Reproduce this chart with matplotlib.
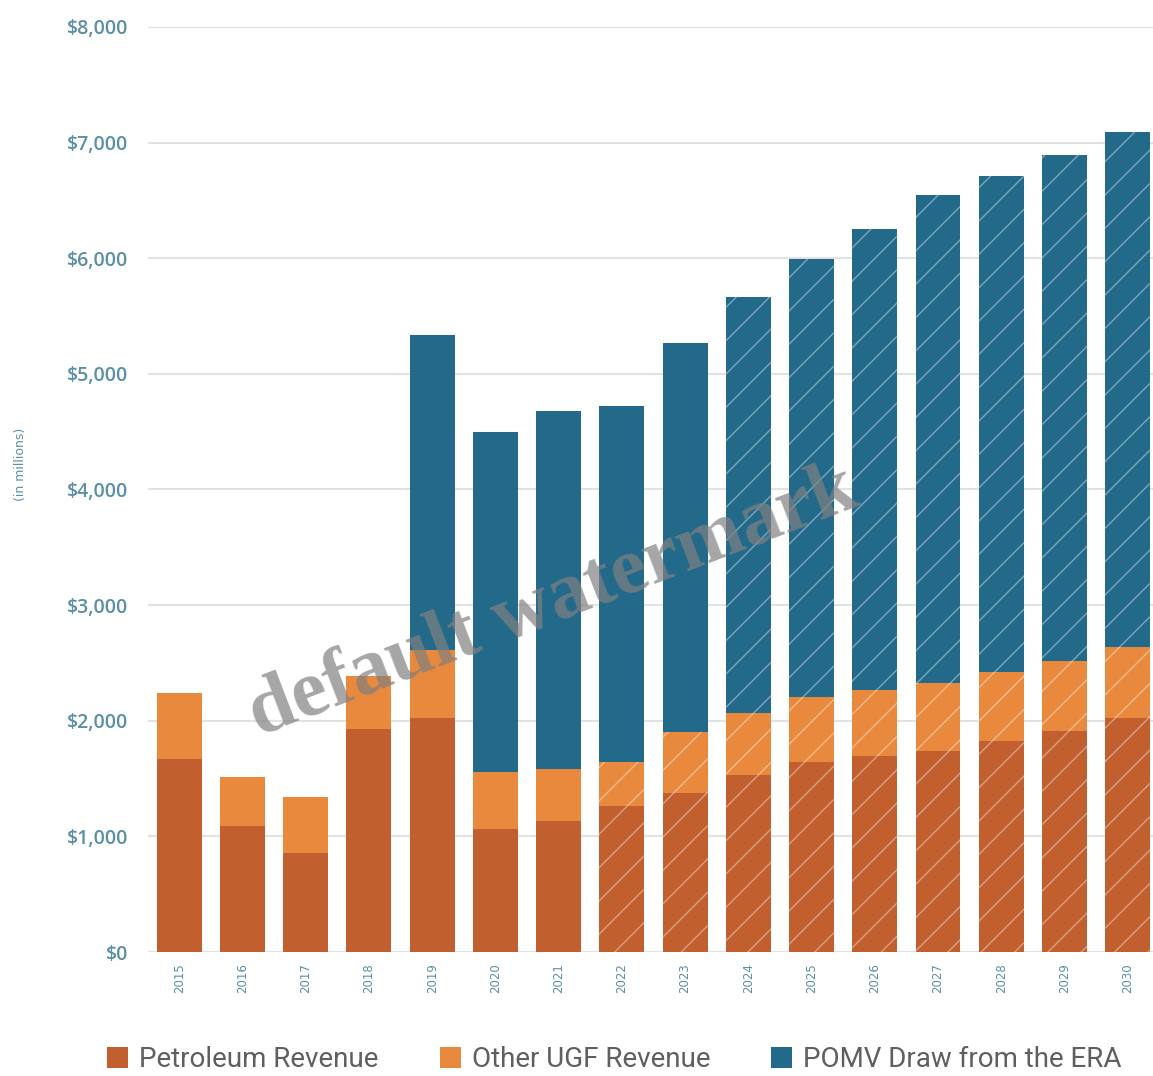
import matplotlib
matplotlib.use("Agg")
import matplotlib.pyplot as plt
from matplotlib.patches import Patch
import numpy as np

years = ["2015", "2016", "2017", "2018", "2019", "2020", "2021", "2022",
         "2023", "2024", "2025", "2026", "2027", "2028", "2029", "2030"]
petroleum = [1670, 1090, 856, 1929, 2024, 1064, 1133, 1263,
             1375, 1531, 1644, 1696, 1739, 1825, 1912, 2024]
other_ugf = [570, 424, 485, 459, 588, 493, 450, 381,
             528, 536, 562, 570, 588, 597, 605, 614]
pomv = [0, 0, 0, 0, 2725, 2941, 3097, 3079,
        3365, 3599, 3789, 3988, 4221, 4291, 4377, 4455]
series_names = ["Petroleum Revenue", "Other UGF Revenue", "POMV Draw from the ERA"]
yticks = [0, 1000, 2000, 3000, 4000, 5000, 6000, 7000, 8000]
ytick_labels = ["$0", "$1,000", "$2,000", "$3,000", "$4,000", "$5,000",
                "$6,000", "$7,000", "$8,000"]

c_pet = "#c15f2f"
c_oth = "#e8893d"
c_pom = "#236a8a"
tick_col = "#5a8fa6"
hatch_col = (1, 1, 1, 0.4)

plt.rcParams['hatch.linewidth'] = 1.0

fig = plt.figure(figsize=(11.53, 10.76), dpi=100)
ax = fig.add_axes([0.128, 0.1152, 0.872, 0.8598])

x = np.arange(len(years))
w = 0.71
pet = np.array(petroleum)
oth = np.array(other_ugf)
pom = np.array(pomv)
yr = np.array([int(y) for y in years])

for i in range(len(x)):
    lower_h = '/' if yr[i] >= 2022 else None
    upper_h = '/' if yr[i] >= 2024 else None
    ax.bar(x[i], pet[i], w, color=c_pet, hatch=lower_h,
           edgecolor=hatch_col if lower_h else c_pet, linewidth=0, zorder=3)
    ax.bar(x[i], oth[i], w, bottom=pet[i], color=c_oth, hatch=lower_h,
           edgecolor=hatch_col if lower_h else c_oth, linewidth=0, zorder=3)
    if pom[i] > 0:
        ax.bar(x[i], pom[i], w, bottom=pet[i] + oth[i], color=c_pom, hatch=upper_h,
               edgecolor=hatch_col if upper_h else c_pom, linewidth=0, zorder=3)

ax.set_xlim(-0.5, 15.4)
ax.set_ylim(0, 8000)
ax.set_yticks(yticks)
ax.set_yticklabels(ytick_labels, fontsize=14, color=tick_col,
                   family='Open Sans', fontweight='semibold')
ax.set_xticks(x)
ax.set_xticklabels(years, rotation=90, fontsize=8.5, color=tick_col)
ax.tick_params(axis='both', length=0)
ax.tick_params(axis='y', pad=14)
ax.tick_params(axis='x', pad=8)
ax.grid(axis='y', color='#e2e2e2', linewidth=1.5, zorder=0)
ax.set_axisbelow(True)
for s in ax.spines.values():
    s.set_visible(False)

fig.text(0.018, 0.568, "(in millions)", rotation=90, fontsize=9, color=tick_col,
         ha='center', va='center')

handles = [Patch(facecolor=c_pet), Patch(facecolor=c_oth), Patch(facecolor=c_pom)]
leg = fig.legend(handles, series_names, loc='center', bbox_to_anchor=(0.533, 0.015),
                 ncol=3, frameon=False, handlelength=0.75, handleheight=0.75,
                 handletextpad=0.4, columnspacing=2.2,
                 prop={'family': 'Roboto', 'size': 20})
for t in leg.get_texts():
    t.set_color('#5f5f5f')

fig.text(0.48, 0.44, "default watermark", rotation=21, ha='center', va='center',
         fontsize=58, family='Liberation Serif', fontweight='bold',
         color='#808080', alpha=0.7, zorder=10)

fig.savefig("out.png", dpi=100)
